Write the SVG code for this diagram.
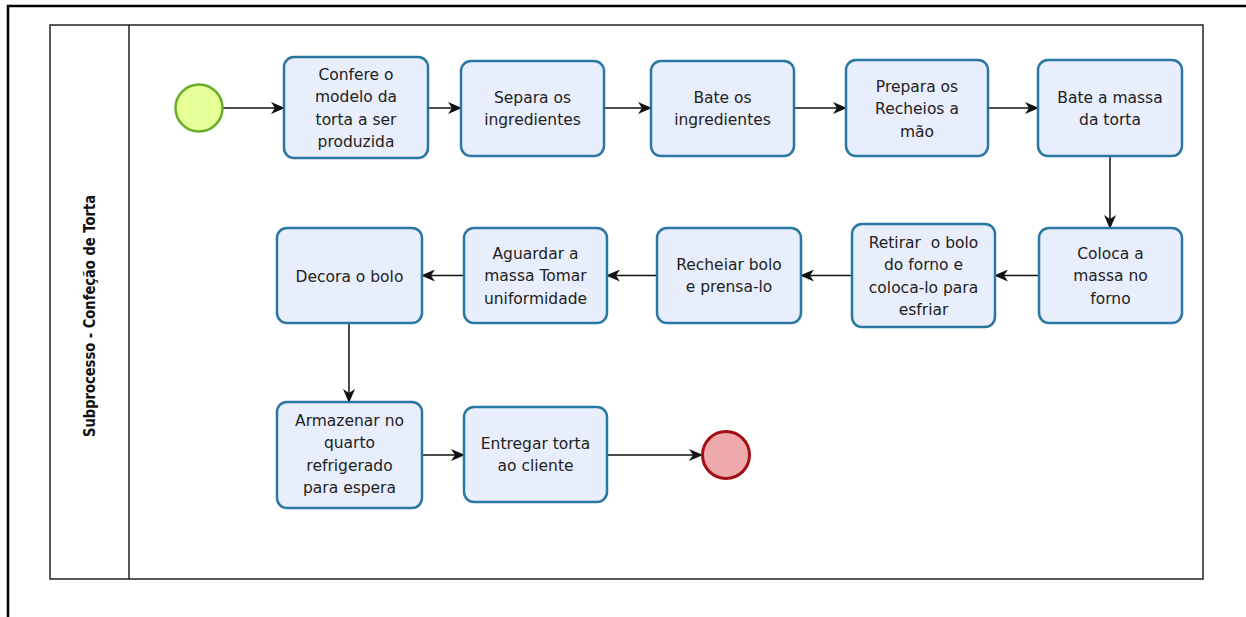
<svg xmlns="http://www.w3.org/2000/svg" width="1246" height="617" viewBox="0 0 1246 617">
  <style>
    .frame { fill: none; stroke: #000; stroke-width: 2.5; }
    .pool { fill: #fff; stroke: #222; stroke-width: 1.5; }
    .task rect { fill: #e9eefc; stroke: #2a77a3; stroke-width: 2.5; }
    .task text { font-family: "DejaVu Sans", "Liberation Sans", sans-serif; font-size: 15.5px; fill: #222; text-anchor: middle; }
    .lane-label { font-family: "DejaVu Sans", "Liberation Sans", sans-serif; font-size: 15px; font-weight: bold; fill: #111; text-anchor: middle; }
    .flow { fill: none; stroke: #111; stroke-width: 1.5; marker-end: url(#arrow); }
  </style>
  <defs>
    <marker id="arrow" viewBox="0 0 14 12" refX="13" refY="6" markerWidth="14" markerHeight="12" markerUnits="userSpaceOnUse" orient="auto">
      <path d="M0,0 L14,6 L0,12 L4,6 Z" fill="#111"/>
    </marker>
  </defs>

  <rect width="1246" height="617" fill="#fff"/>
  <!-- page frame: top and left edges -->
  <path class="frame" d="M8,617 L8,6 L1246,6"/>

  <!-- pool with its single lane -->
  <g id="pool">
    <rect class="pool" x="50" y="25" width="1153" height="554"/>
    <line x1="129" y1="25" x2="129" y2="579" stroke="#222" stroke-width="1.5"/>
    <text class="lane-label" transform="translate(95,316) rotate(-90)" textLength="242" lengthAdjust="spacingAndGlyphs">Subprocesso - Confeção de Torta</text>
  </g>

  <!-- sequence flows -->
  <g id="connectors">
    <line class="flow" x1="223" y1="108" x2="284" y2="108"/>
    <line class="flow" x1="428" y1="108" x2="461" y2="108"/>
    <line class="flow" x1="604" y1="108" x2="651" y2="108"/>
    <line class="flow" x1="794" y1="108" x2="846" y2="108"/>
    <line class="flow" x1="988" y1="108" x2="1038" y2="108"/>
    <line class="flow" x1="1110" y1="156" x2="1110" y2="228"/>
    <line class="flow" x1="1039" y1="275.5" x2="995" y2="275.5"/>
    <line class="flow" x1="852" y1="275.5" x2="801" y2="275.5"/>
    <line class="flow" x1="657" y1="275.5" x2="607" y2="275.5"/>
    <line class="flow" x1="464" y1="275.5" x2="422" y2="275.5"/>
    <line class="flow" x1="349" y1="323" x2="349" y2="402"/>
    <line class="flow" x1="422" y1="455" x2="464" y2="455"/>
    <line class="flow" x1="607" y1="455" x2="702" y2="455"/>
  </g>

  <!-- start event -->
  <g id="start">
    <circle cx="199" cy="108" r="23.5" fill="#e6ff97" stroke="#6aad2a" stroke-width="2.5"/>
  </g>

  <g id="t1" class="task">
    <rect x="284" y="57" width="144" height="101" rx="10"/>
    <text x="356" y="79.5">Confere o</text>
    <text x="356" y="102">modelo da</text>
    <text x="356" y="124.5">torta a ser</text>
    <text x="356" y="147">produzida</text>
  </g>
  <g id="t2" class="task">
    <rect x="461" y="61" width="143" height="95" rx="10"/>
    <text x="532.5" y="102.5">Separa os</text>
    <text x="532.5" y="125">ingredientes</text>
  </g>
  <g id="t3" class="task">
    <rect x="651" y="61" width="143" height="95" rx="10"/>
    <text x="722.5" y="102.5">Bate os</text>
    <text x="722.5" y="125">ingredientes</text>
  </g>
  <g id="t4" class="task">
    <rect x="846" y="60" width="142" height="96" rx="10"/>
    <text x="917" y="91.5">Prepara os</text>
    <text x="917" y="114">Recheios a</text>
    <text x="917" y="136.5">mão</text>
  </g>
  <g id="t5" class="task">
    <rect x="1038" y="60" width="144" height="96" rx="10"/>
    <text x="1110" y="102.5">Bate a massa</text>
    <text x="1110" y="125">da torta</text>
  </g>
  <g id="t6" class="task">
    <rect x="1039" y="228" width="143" height="95" rx="10"/>
    <text x="1110.5" y="258.5">Coloca a</text>
    <text x="1110.5" y="281">massa no</text>
    <text x="1110.5" y="303.5">forno</text>
  </g>
  <g id="t7" class="task">
    <rect x="852" y="224" width="143" height="103" rx="10"/>
    <text x="923.5" y="247.5" xml:space="preserve">Retirar  o bolo</text>
    <text x="923.5" y="270">do forno e</text>
    <text x="923.5" y="292.5">coloca-lo para</text>
    <text x="923.5" y="315">esfriar</text>
  </g>
  <g id="t8" class="task">
    <rect x="657" y="228" width="144" height="95" rx="10"/>
    <text x="729" y="269.5">Recheiar bolo</text>
    <text x="729" y="292">e prensa-lo</text>
  </g>
  <g id="t9" class="task">
    <rect x="464" y="228" width="143" height="95" rx="10"/>
    <text x="535.5" y="258.5">Aguardar a</text>
    <text x="535.5" y="281">massa Tomar</text>
    <text x="535.5" y="303.5">uniformidade</text>
  </g>
  <g id="t10" class="task">
    <rect x="277" y="228" width="145" height="95" rx="10"/>
    <text x="349.5" y="281.5">Decora o bolo</text>
  </g>
  <g id="t11" class="task">
    <rect x="277" y="402" width="145" height="106" rx="10"/>
    <text x="349.5" y="425.5">Armazenar no</text>
    <text x="349.5" y="448">quarto</text>
    <text x="349.5" y="470.5">refrigerado</text>
    <text x="349.5" y="493">para espera</text>
  </g>
  <g id="t12" class="task">
    <rect x="464" y="407" width="143" height="95" rx="10"/>
    <text x="535.5" y="448.5">Entregar torta</text>
    <text x="535.5" y="471">ao cliente</text>
  </g>

  <!-- end event -->
  <g id="end">
    <circle cx="726" cy="455" r="23.5" fill="#eeaaab" stroke="#a30f12" stroke-width="3"/>
  </g>
</svg>
